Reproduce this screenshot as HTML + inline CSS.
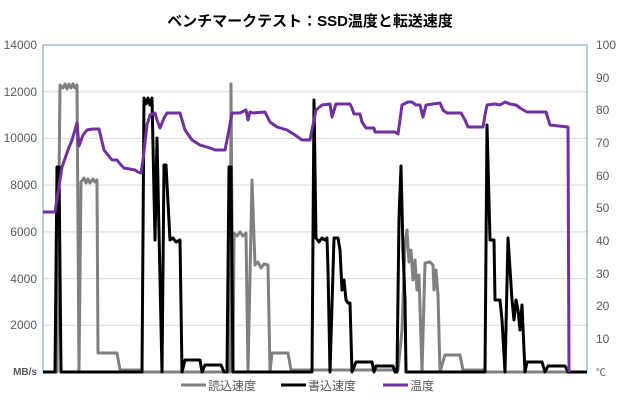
<!DOCTYPE html>
<html><head><meta charset="utf-8"><style>
body{margin:0;background:#fff}
svg{display:block;font-family:"Liberation Sans","Noto Sans CJK JP",sans-serif}
</style></head><body>
<svg width="620" height="400" viewBox="0 0 620 400">
<rect width="620" height="400" fill="#fff"/>
<text x="310" y="26" text-anchor="middle" font-size="15" font-weight="bold" fill="#000">ベンチマークテスト：SSD温度と転送速度</text>
<g stroke="#d9d9d9" stroke-width="1">
<line x1="43" x2="587" y1="91.7" y2="91.7"/><line x1="43" x2="587" y1="138.4" y2="138.4"/>
<line x1="43" x2="587" y1="185.1" y2="185.1"/><line x1="43" x2="587" y1="231.9" y2="231.9"/>
<line x1="43" x2="587" y1="278.6" y2="278.6"/><line x1="43" x2="587" y1="325.3" y2="325.3"/>
</g>
<path d="M43 372V45H587V372" fill="none" stroke="#6e9cc0" stroke-width="1"/>
<g font-size="12" fill="#595959" text-anchor="end">
<text x="37" y="49">14000</text><text x="37" y="96">12000</text><text x="37" y="142">10000</text>
<text x="37" y="189">8000</text><text x="37" y="236">6000</text><text x="37" y="283">4000</text>
<text x="37" y="329">2000</text><text x="37" y="375" font-size="10" font-weight="bold">MB/s</text>
</g>
<g font-size="12" fill="#595959">
<text x="596" y="49">100</text><text x="596" y="82">90</text><text x="596" y="114">80</text>
<text x="596" y="147">70</text><text x="596" y="180">60</text><text x="596" y="212">50</text>
<text x="596" y="245">40</text><text x="596" y="278">30</text><text x="596" y="310">20</text>
<text x="596" y="343">10</text><text x="596" y="376" font-size="10">℃</text>
</g>
<polyline fill="none" stroke="#808080" stroke-width="3" stroke-linejoin="round" points="43,372 57,372 60,85 63,88 65,84 67,89 69,84 71,88 73,84 75,88 77,85 79,372 81,182 84,178 86,183 88,179 90,183 93,179 95,182 97,180 98,353 117,353 120,370 141,370 143,372 230,372 231,84 233,372 234,233 237,236 240,232 243,236 246,233 248,372 252,180 255,265 258,262 261,268 264,264 268,265 270,372 272,353 288,353 291,370 310,370 398,370 402,330 405,245 407,230 409,262 411,250 413,280 415,260 417,290 419,275 422,372 425,263 430,262 433,265 434,290 436,270 438,295 440,372 445,355 460,355 463,370 483,370 485,372 587,372"/>
<polyline fill="none" stroke="#000" stroke-width="3" stroke-linejoin="round" points="43,372 55,372 57,167 59,167 61,372 142,372 144,98 146,104 148,98 150,105 152,98 155,240 157,138 162,372 164,165 166,165 170,240 173,238 176,242 180,240 182,372 185,360 200,360 202,372 205,365 221,365 224,372 227,372 229,167 231,167 233,372 312,372 314,100 316,238 319,242 322,238 325,240 327,238 328,270 330,372 334,238 338,238 340,250 342,290 344,280 346,300 348,303 350,303 352,372 356,362 372,362 374,372 376,366 393,366 395,372 397,372 399,218 401,166 403,250 405,300 406,372 485,372 487,125 490,240 494,240 495,300 500,300 502,320 505,372 508,238 512,300 514,320 516,300 518,310 520,330 522,305 525,372 527,362 542,362 545,372 548,366 565,366 568,372 587,372"/>
<polyline fill="none" stroke="#7030a0" stroke-width="3" stroke-linejoin="round" points="43,212 55,212 62,167 68,150 72,140 77,123 79,146 83,135 87,130 93,129 99,129 104,150 108,155 112,160 117,160 121,165 124,168 135,170 138,172 141,173 143,160 147,125 150,115 155,113 157,120 160,128 164,118 167,113 180,113 185,130 192,140 200,145 210,148 215,150 225,150 229,130 232,113 240,113 246,110 248,120 250,112 253,113 265,112 270,122 277,127 287,130 295,135 302,140 310,140 313,125 316,110 322,105 330,104 332,117 336,104 350,104 352,108 354,114 360,114 362,122 366,128 374,128 375,132 395,132 398,134 400,120 402,105 408,102 412,102 416,105 420,105 423,117 426,105 440,103 443,110 447,113 461,113 465,120 468,127 483,127 485,115 487,105 495,104 500,105 505,102 510,104 516,105 520,108 527,112 546,112 550,125 568,127 569,372"/>
<g font-size="12" fill="#595959">
<line x1="181" x2="206" y1="385" y2="385" stroke="#808080" stroke-width="3"/><text x="208" y="390">読込速度</text>
<line x1="281" x2="306" y1="385" y2="385" stroke="#000" stroke-width="3"/><text x="308" y="390">書込速度</text>
<line x1="383" x2="408" y1="385" y2="385" stroke="#7030a0" stroke-width="3"/><text x="410" y="390">温度</text>
</g>
</svg>
</body></html>
